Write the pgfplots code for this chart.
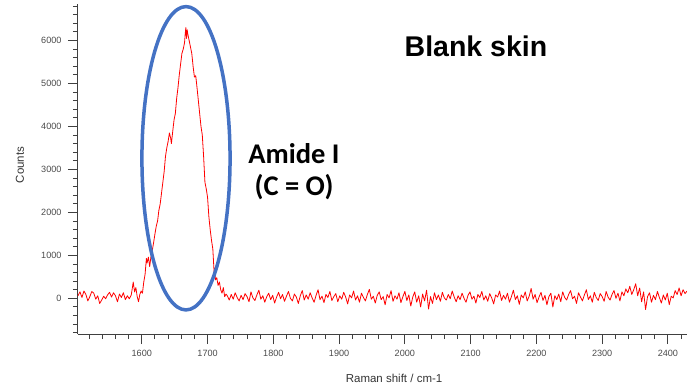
\documentclass[border=0pt]{standalone}
\usepackage{pgfplots}
\pgfplotsset{compat=1.18}
\usepackage{pgfplotstable}
\usepackage{fontspec}
\setmainfont{Liberation Sans}
\newfontfamily\calibri{Carlito}
\definecolor{ellblue}{HTML}{4472C4}
\definecolor{axgray}{HTML}{404040}
\definecolor{lblgray}{HTML}{4A4A4A}
\pgfplotstableread[row sep=\\]{
x y\\
1503 60\\ 1506 150\\ 1509 20\\ 1512 170\\ 1515 90\\ 1518 -60\\ 1521 40\\ 1524 160\\ 1527 120\\ 1530 -20\\
1533 60\\ 1536 -120\\ 1539 -40\\ 1542 50\\ 1545 -10\\ 1548 80\\ 1551 140\\ 1554 30\\ 1557 130\\ 1560 60\\
1563 -80\\ 1566 100\\ 1569 20\\ 1572 130\\ 1575 -30\\ 1578 60\\ 1581 -10\\ 1584 80\\ 1587 380\\ 1589 150\\
1591 250\\ 1593 40\\ 1595 -80\\ 1597 90\\ 1599 170\\ 1601 120\\ 1603 380\\ 1605 560\\ 1607 930\\ 1608 820\\
1610 960\\ 1612 740\\ 1614 980\\ 1616 1120\\ 1618 1300\\ 1620 1500\\ 1622 1680\\ 1624 1800\\ 1626 2050\\ 1628 2200\\
1630 2450\\ 1632 2700\\ 1634 2950\\ 1636 3300\\ 1638 3500\\ 1640 3650\\ 1642 3850\\ 1644 3720\\ 1645 3600\\ 1647 3880\\
1649 4150\\ 1651 4300\\ 1653 4650\\ 1655 4900\\ 1657 5200\\ 1659 5450\\ 1661 5700\\ 1663 5800\\ 1665 5950\\ 1666 6150\\
1667 6300\\ 1668 6050\\ 1669 6250\\ 1670 6150\\ 1672 6000\\ 1674 5850\\ 1676 5700\\ 1678 5400\\ 1680 5150\\ 1682 5180\\
1684 4900\\ 1686 4600\\ 1688 4300\\ 1690 4000\\ 1692 3800\\ 1694 3300\\ 1696 2700\\ 1698 2550\\ 1700 2350\\ 1702 1900\\
1704 1600\\ 1706 1350\\ 1708 1150\\ 1710 600\\ 1711 700\\ 1712 430\\ 1714 480\\ 1716 300\\ 1718 380\\ 1720 200\\
1722 120\\ 1724 250\\ 1726 40\\ 1728 100\\
1730 60\\ 1733 -40\\ 1736 90\\ 1739 -20\\ 1742 130\\ 1745 20\\ 1748 -60\\ 1751 70\\ 1754 -30\\ 1757 110\\
1760 40\\ 1763 -80\\ 1766 150\\ 1769 10\\ 1772 -50\\ 1775 80\\ 1778 190\\ 1781 -20\\ 1784 60\\ 1787 -90\\
1790 40\\ 1793 120\\ 1796 -30\\ 1799 70\\ 1802 -110\\ 1805 30\\ 1808 140\\ 1811 -10\\ 1814 90\\ 1817 -70\\
1820 50\\ 1823 160\\ 1826 0\\ 1829 -60\\ 1832 100\\ 1835 30\\ 1838 -120\\ 1841 60\\ 1844 180\\ 1847 -40\\
1850 80\\ 1853 -20\\ 1856 130\\ 1859 10\\ 1862 -90\\ 1865 70\\ 1868 200\\ 1871 -30\\ 1874 50\\ 1877 -100\\
1880 90\\ 1883 20\\ 1886 160\\ 1889 -50\\ 1892 40\\ 1895 110\\ 1898 -80\\ 1901 60\\ 1904 -20\\ 1907 140\\
1910 30\\ 1913 -130\\ 1916 80\\ 1919 10\\ 1922 170\\ 1925 -40\\ 1928 60\\ 1931 -90\\ 1934 120\\ 1937 20\\
1940 -60\\ 1943 90\\ 1946 210\\ 1949 -20\\ 1952 50\\ 1955 -110\\ 1958 70\\ 1961 150\\ 1964 -30\\ 1967 40\\
1970 -150\\ 1973 90\\ 1976 10\\ 1979 180\\ 1982 -70\\ 1985 60\\ 1988 -20\\ 1991 130\\ 1994 -100\\ 1997 40\\
2000 160\\ 2003 -50\\ 2006 80\\ 2009 -180\\ 2012 30\\ 2015 150\\ 2018 -90\\ 2021 60\\ 2024 -200\\ 2027 100\\
2030 -60\\ 2033 190\\ 2036 -250\\ 2039 40\\ 2042 -120\\ 2045 130\\ 2048 -30\\ 2051 80\\ 2054 -70\\ 2057 140\\
2060 10\\ 2063 -40\\ 2066 90\\ 2069 -10\\ 2072 170\\ 2075 30\\ 2078 -80\\ 2081 60\\ 2084 -30\\ 2087 120\\
2090 0\\ 2093 -90\\ 2096 70\\ 2099 150\\ 2102 -20\\ 2105 50\\ 2108 -110\\ 2111 90\\ 2114 20\\ 2117 160\\
2120 -40\\ 2123 60\\ 2126 -70\\ 2129 110\\ 2132 10\\ 2135 -130\\ 2138 80\\ 2141 30\\ 2144 170\\ 2147 -50\\
2150 70\\ 2153 -20\\ 2156 120\\ 2159 -90\\ 2162 40\\ 2165 190\\ 2168 -30\\ 2171 60\\ 2174 -140\\ 2177 80\\
2180 10\\ 2183 150\\ 2186 -60\\ 2189 50\\ 2192 230\\ 2195 -20\\ 2198 90\\ 2201 -100\\ 2204 30\\ 2207 140\\
2210 -50\\ 2213 70\\ 2216 -150\\ 2219 40\\ 2222 120\\ 2225 -200\\ 2228 60\\ 2231 -30\\ 2234 100\\ 2237 -80\\
2240 150\\ 2243 20\\ 2246 -40\\ 2249 90\\ 2252 180\\ 2255 -10\\ 2258 50\\ 2261 -120\\ 2264 130\\ 2267 30\\
2270 -60\\ 2273 80\\ 2276 200\\ 2279 -30\\ 2282 60\\ 2285 -90\\ 2288 140\\ 2291 20\\ 2294 -50\\ 2297 110\\
2300 40\\ 2303 -70\\ 2306 160\\ 2309 30\\ 2312 -40\\ 2315 90\\ 2318 180\\ 2321 0\\ 2324 120\\ 2327 -60\\
2330 150\\ 2333 60\\ 2336 220\\ 2339 130\\ 2342 280\\ 2345 90\\ 2348 200\\ 2351 340\\ 2354 60\\ 2357 240\\
2360 -80\\ 2363 150\\ 2366 -260\\ 2369 40\\ 2372 130\\ 2375 -90\\ 2378 70\\ 2381 -30\\ 2384 160\\ 2387 20\\
2390 -110\\ 2393 80\\ 2396 -40\\ 2399 120\\ 2402 -150\\ 2405 50\\ 2408 10\\ 2411 180\\ 2414 90\\ 2417 240\\
2420 60\\ 2423 200\\ 2426 110\\ 2429 170\\
}\spectrum
\begin{document}
\begin{tikzpicture}[x=1pt,y=1pt]
\begin{axis}[
  at={(78pt,52pt)}, anchor=south west,
  scale only axis, width=609pt, height=330pt,
  xmin=1503, xmax=2429, ymin=-830, ymax=6850,
  axis x line=bottom, axis y line=left,
  axis line style={-, axgray, line width=1pt},
  xtick={1600,1700,...,2400},
  minor xtick={1520,1540,...,2420},
  ytick={0,1000,...,6000},
  minor ytick={-800,-600,...,6800},
  tick align=outside,
  major tick length=10pt, minor tick length=5pt,
  every tick/.style={axgray, line width=0.9pt},
  tick label style={font=\fontsize{9.1}{10}\selectfont, text=lblgray},
  /pgf/number format/assume math mode=true,
  /pgf/number format/1000 sep={},
  xticklabel style={yshift=-3pt},
  yticklabel style={xshift=-3pt},
  xlabel={Raman shift / cm-1},
  ylabel={Counts},
  label style={font=\fontsize{11.5}{13}\selectfont, text=black!80},
  xlabel style={at={(axis description cs:0.519,-0.136)}, anchor=center},
  ylabel style={at={(axis description cs:-0.0952,0.512)}, anchor=center, rotate=0},
  clip=false,
]
\addplot[red, line width=0.8pt, line join=round] table[x=x,y=y] {\spectrum};
\draw[ellblue, line width=3.5pt] (axis cs:1667.2,3260) ellipse [x radius=67, y radius=3530];
\end{axis}
\node[anchor=base, font=\fontsize{28.5}{30}\selectfont\bfseries] at (476pt,329pt) {Blank skin};
\node[anchor=base, font=\calibri\fontsize{28.5}{30}\selectfont\bfseries] at (294pt,222.7pt) {Amide I};
\node[anchor=base, font=\calibri\fontsize{28.5}{30}\selectfont\bfseries] at (294pt,191pt) {(C = O)};
\pgfresetboundingbox
\path (0,0) rectangle (687pt,386pt);
\end{tikzpicture}
\end{document}
